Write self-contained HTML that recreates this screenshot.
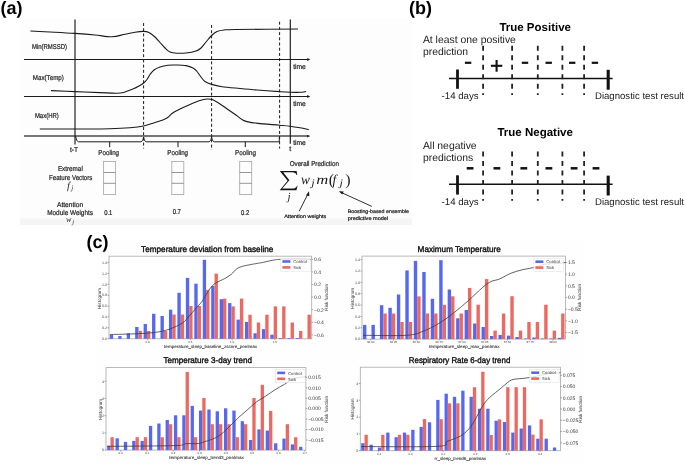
<!DOCTYPE html>
<html><head><meta charset="utf-8"><style>
html,body{margin:0;padding:0;background:#fff;}
svg{display:block;filter:blur(0.3px);}
</style></head><body>
<svg width="685" height="464" viewBox="0 0 685 464" text-rendering="geometricPrecision">
<defs><linearGradient id="bandg" x1="0" y1="0" x2="0" y2="1"><stop offset="0" stop-color="#fdfdfd"/><stop offset="0.45" stop-color="#f5f5f5"/><stop offset="1" stop-color="#f4f4f4"/></linearGradient></defs>
<rect x="20.00" y="19.00" width="392.00" height="206.00" fill="#fdfdfd" />
<rect x="20.00" y="216.50" width="392.00" height="8.50" fill="url(#bandg)" />
<rect x="95.00" y="241.00" width="490.00" height="223.00" fill="#fefefe" />
<text x="0.5" y="14" font-size="18" text-anchor="start" font-weight="bold" fill="#000" font-family='"Liberation Sans", sans-serif' >(a)</text>
<text x="409" y="14" font-size="18" text-anchor="start" font-weight="bold" fill="#000" font-family='"Liberation Sans", sans-serif' >(b)</text>
<text x="86.5" y="247.7" font-size="18" text-anchor="start" font-weight="bold" fill="#000" font-family='"Liberation Sans", sans-serif' >(c)</text>
<line x1="24" y1="59.5" x2="308" y2="59.5" stroke="#1a1a1a" stroke-width="1.15" />
<path d="M310.3,59.5 L307.2,58.1 L307.2,60.9 Z" fill="#1a1a1a" stroke="none" stroke-width="0" />
<line x1="24" y1="96.5" x2="308" y2="96.5" stroke="#1a1a1a" stroke-width="1.15" />
<path d="M310.3,96.5 L307.2,95.1 L307.2,97.9 Z" fill="#1a1a1a" stroke="none" stroke-width="0" />
<line x1="24" y1="136.1" x2="308" y2="136.1" stroke="#4a4a4a" stroke-width="1.5" />
<path d="M310.3,136.1 L307.2,134.7 L307.2,137.5 Z" fill="#1a1a1a" stroke="none" stroke-width="0" />
<line x1="75" y1="19.4" x2="75" y2="144.4" stroke="#1a1a1a" stroke-width="1.15" />
<line x1="290.3" y1="19.5" x2="290.3" y2="143.7" stroke="#1a1a1a" stroke-width="1.15" />
<line x1="143.6" y1="23" x2="143.6" y2="148.5" stroke="#1a1a1a" stroke-width="1.0" stroke-dasharray="3,2.2"/>
<line x1="211.6" y1="25" x2="211.6" y2="150" stroke="#1a1a1a" stroke-width="1.0" stroke-dasharray="3,2.2"/>
<line x1="279.6" y1="21.7" x2="279.6" y2="148.5" stroke="#1a1a1a" stroke-width="1.0" stroke-dasharray="3,2.2"/>
<path d="M75.6,136.5 Q76.5,141.8 78.5,141.8 L141,141.8 Q143.2,141.5 143.6,137 Q144,141.5 146.2,141.8 L209,141.8 Q211.2,141.5 211.6,137 Q212,141.5 214.2,141.8 L279.3,141.8 L279.3,137" fill="none" stroke="#1a1a1a" stroke-width="1.0" />
<line x1="109.7" y1="141.8" x2="109.7" y2="147.2" stroke="#1a1a1a" stroke-width="1.0" />
<line x1="178" y1="141.8" x2="178" y2="147.2" stroke="#1a1a1a" stroke-width="1.0" />
<line x1="245.3" y1="141.8" x2="245.3" y2="147.2" stroke="#1a1a1a" stroke-width="1.0" />
<path d="M30.40,31.00 C34.50,31.20 47.57,31.80 55.00,32.20 C62.43,32.60 68.33,32.93 75.00,33.40 C81.67,33.87 88.83,34.43 95.00,35.00 C101.17,35.57 107.00,36.93 112.00,36.80 C117.00,36.67 121.17,34.97 125.00,34.20 C128.83,33.43 131.90,32.67 135.00,32.20 C138.10,31.73 141.27,31.35 143.60,31.40 C145.93,31.45 147.10,31.57 149.00,32.50 C150.90,33.43 153.17,35.33 155.00,37.00 C156.83,38.67 158.33,40.67 160.00,42.50 C161.67,44.33 163.33,46.42 165.00,48.00 C166.67,49.58 168.00,51.13 170.00,52.00 C172.00,52.87 174.33,53.03 177.00,53.20 C179.67,53.37 182.83,53.37 186.00,53.00 C189.17,52.63 193.50,51.83 196.00,51.00 C198.50,50.17 199.33,49.50 201.00,48.00 C202.67,46.50 204.23,44.08 206.00,42.00 C207.77,39.92 209.77,37.25 211.60,35.50 C213.43,33.75 214.93,32.42 217.00,31.50 C219.07,30.58 220.83,30.33 224.00,30.00 C227.17,29.67 223.67,29.67 236.00,29.50 C248.33,29.33 287.67,29.08 298.00,29.00" fill="none" stroke="#1a1a1a" stroke-width="1.1" />
<path d="M51.00,90.60 C55.00,90.77 66.83,91.27 75.00,91.60 C83.17,91.93 93.00,92.33 100.00,92.60 C107.00,92.87 112.83,93.30 117.00,93.20 C121.17,93.10 122.33,92.70 125.00,92.00 C127.67,91.30 130.67,90.00 133.00,89.00 C135.33,88.00 137.23,87.00 139.00,86.00 C140.77,85.00 142.27,84.08 143.60,83.00 C144.93,81.92 145.93,80.92 147.00,79.50 C148.07,78.08 148.83,76.08 150.00,74.50 C151.17,72.92 152.33,71.25 154.00,70.00 C155.67,68.75 157.67,67.80 160.00,67.00 C162.33,66.20 165.33,65.53 168.00,65.20 C170.67,64.87 173.00,64.93 176.00,65.00 C179.00,65.07 183.17,65.10 186.00,65.60 C188.83,66.10 191.17,67.02 193.00,68.00 C194.83,68.98 195.67,70.00 197.00,71.50 C198.33,73.00 199.67,75.33 201.00,77.00 C202.33,78.67 203.23,80.27 205.00,81.50 C206.77,82.73 208.77,83.53 211.60,84.40 C214.43,85.27 217.27,86.02 222.00,86.70 C226.73,87.38 234.17,87.95 240.00,88.50 C245.83,89.05 250.40,89.48 257.00,90.00 C263.60,90.52 274.10,91.23 279.60,91.60 C285.10,91.97 286.60,92.08 290.00,92.20 C293.40,92.32 297.30,92.42 300.00,92.30 C302.70,92.18 305.17,91.63 306.20,91.50" fill="none" stroke="#1a1a1a" stroke-width="1.1" />
<path d="M39.80,129.00 C46.50,129.00 68.30,129.03 80.00,129.00 C91.70,128.97 101.67,129.00 110.00,128.80 C118.33,128.60 124.40,128.27 130.00,127.80 C135.60,127.33 139.43,126.88 143.60,126.00 C147.77,125.12 151.60,123.58 155.00,122.50 C158.40,121.42 161.83,120.37 164.00,119.50 C166.17,118.63 166.67,118.30 168.00,117.30 C169.33,116.30 170.33,114.72 172.00,113.50 C173.67,112.28 175.00,111.50 178.00,110.00 C181.00,108.50 186.33,106.08 190.00,104.50 C193.67,102.92 197.17,101.42 200.00,100.50 C202.83,99.58 205.00,99.15 207.00,99.00 C209.00,98.85 209.83,98.77 212.00,99.60 C214.17,100.43 217.33,102.35 220.00,104.00 C222.67,105.65 225.33,107.67 228.00,109.50 C230.67,111.33 233.67,113.33 236.00,115.00 C238.33,116.67 240.17,118.40 242.00,119.50 C243.83,120.60 244.33,120.95 247.00,121.60 C249.67,122.25 252.57,122.80 258.00,123.40 C263.43,124.00 274.27,124.73 279.60,125.20 C284.93,125.67 286.60,125.77 290.00,126.20 C293.40,126.63 296.87,127.23 300.00,127.80 C303.13,128.37 307.33,129.30 308.80,129.60" fill="none" stroke="#1a1a1a" stroke-width="1.1" />
<text x="32" y="48.9" font-size="7.0" font-weight="normal" fill="#2a2a2a" font-family='"Liberation Sans", sans-serif' textLength="35.00" lengthAdjust="spacingAndGlyphs" stroke="#2a2a2a" stroke-width="0.24">Min(RMSSD)</text>
<text x="32.8" y="79.5" font-size="7.0" font-weight="normal" fill="#2a2a2a" font-family='"Liberation Sans", sans-serif' textLength="31.10" lengthAdjust="spacingAndGlyphs" stroke="#2a2a2a" stroke-width="0.24">Max(Temp)</text>
<text x="34.9" y="118.4" font-size="7.0" font-weight="normal" fill="#2a2a2a" font-family='"Liberation Sans", sans-serif' textLength="23.90" lengthAdjust="spacingAndGlyphs" stroke="#2a2a2a" stroke-width="0.24">Max(HR)</text>
<text x="293.2" y="68.6" font-size="7.0" font-weight="normal" fill="#2a2a2a" font-family='"Liberation Sans", sans-serif' textLength="12.60" lengthAdjust="spacingAndGlyphs" stroke="#2a2a2a" stroke-width="0.24">time</text>
<text x="293.2" y="105.6" font-size="7.0" font-weight="normal" fill="#2a2a2a" font-family='"Liberation Sans", sans-serif' textLength="12.60" lengthAdjust="spacingAndGlyphs" stroke="#2a2a2a" stroke-width="0.24">time</text>
<text x="293.2" y="144.8" font-size="7.0" font-weight="normal" fill="#2a2a2a" font-family='"Liberation Sans", sans-serif' textLength="12.60" lengthAdjust="spacingAndGlyphs" stroke="#2a2a2a" stroke-width="0.24">time</text>
<text x="70" y="151.7" font-size="7.0" font-weight="normal" fill="#2a2a2a" font-family='"Liberation Sans", sans-serif' textLength="8.00" lengthAdjust="spacingAndGlyphs" stroke="#2a2a2a" stroke-width="0.24">t-T</text>
<text x="289.2" y="150.6" font-size="7.0" font-weight="normal" fill="#2a2a2a" font-family='"Liberation Sans", sans-serif' textLength="2.00" lengthAdjust="spacingAndGlyphs" stroke="#2a2a2a" stroke-width="0.24">t</text>
<text x="98.3" y="154.6" font-size="7.0" font-weight="normal" fill="#2a2a2a" font-family='"Liberation Sans", sans-serif' textLength="20.80" lengthAdjust="spacingAndGlyphs" stroke="#2a2a2a" stroke-width="0.24">Pooling</text>
<text x="167.29999999999998" y="154.6" font-size="7.0" font-weight="normal" fill="#2a2a2a" font-family='"Liberation Sans", sans-serif' textLength="20.80" lengthAdjust="spacingAndGlyphs" stroke="#2a2a2a" stroke-width="0.24">Pooling</text>
<text x="235.1" y="154.6" font-size="7.0" font-weight="normal" fill="#2a2a2a" font-family='"Liberation Sans", sans-serif' textLength="20.80" lengthAdjust="spacingAndGlyphs" stroke="#2a2a2a" stroke-width="0.24">Pooling</text>
<text x="57.9" y="171" font-size="7.0" font-weight="normal" fill="#2a2a2a" font-family='"Liberation Sans", sans-serif' textLength="24.90" lengthAdjust="spacingAndGlyphs" stroke="#2a2a2a" stroke-width="0.24">Extremal</text>
<text x="49" y="179.5" font-size="7.0" font-weight="normal" fill="#2a2a2a" font-family='"Liberation Sans", sans-serif' textLength="43.40" lengthAdjust="spacingAndGlyphs" stroke="#2a2a2a" stroke-width="0.24">Feature Vectors</text>
<text x="67.0" y="188.6" font-size="10.5" text-anchor="start" font-weight="normal" fill="#2a2a2a" font-family='"Liberation Serif", serif' font-style="italic" >f</text>
<text x="71.2" y="190.2" font-size="7" text-anchor="start" font-weight="normal" fill="#2a2a2a" font-family='"Liberation Serif", serif' font-style="italic" >j</text>
<text x="57" y="206.6" font-size="7.0" font-weight="normal" fill="#2a2a2a" font-family='"Liberation Sans", sans-serif' textLength="26.10" lengthAdjust="spacingAndGlyphs" stroke="#2a2a2a" stroke-width="0.24">Attention</text>
<text x="47.2" y="214.5" font-size="7.0" font-weight="normal" fill="#2a2a2a" font-family='"Liberation Sans", sans-serif' textLength="45.80" lengthAdjust="spacingAndGlyphs" stroke="#2a2a2a" stroke-width="0.24">Module Weights</text>
<text x="66.0" y="221.6" font-size="8" text-anchor="start" font-weight="normal" fill="#2a2a2a" font-family='"Liberation Serif", serif' font-style="italic" >w</text>
<text x="72.2" y="223.8" font-size="6.5" text-anchor="start" font-weight="normal" fill="#2a2a2a" font-family='"Liberation Serif", serif' font-style="italic" >j</text>
<text x="104.2" y="214.5" font-size="7.0" font-weight="normal" fill="#2a2a2a" font-family='"Liberation Sans", sans-serif' textLength="8.20" lengthAdjust="spacingAndGlyphs" stroke="#2a2a2a" stroke-width="0.24">0.1</text>
<text x="172.70000000000002" y="214.3" font-size="7.0" font-weight="normal" fill="#2a2a2a" font-family='"Liberation Sans", sans-serif' textLength="8.20" lengthAdjust="spacingAndGlyphs" stroke="#2a2a2a" stroke-width="0.24">0.7</text>
<text x="241.1" y="215" font-size="7.0" font-weight="normal" fill="#2a2a2a" font-family='"Liberation Sans", sans-serif' textLength="8.20" lengthAdjust="spacingAndGlyphs" stroke="#2a2a2a" stroke-width="0.24">0.2</text>
<rect x="103.6" y="161.4" width="12" height="33.2" fill="none" stroke="#a8a8a8" stroke-width="0.85"/>
<line x1="103.6" y1="172.5" x2="115.6" y2="172.5" stroke="#8a8a8a" stroke-width="0.9" />
<line x1="103.6" y1="183.3" x2="115.6" y2="183.3" stroke="#8a8a8a" stroke-width="0.9" />
<rect x="171.8" y="161.4" width="12" height="33.2" fill="none" stroke="#a8a8a8" stroke-width="0.85"/>
<line x1="171.8" y1="172.5" x2="183.8" y2="172.5" stroke="#8a8a8a" stroke-width="0.9" />
<line x1="171.8" y1="183.3" x2="183.8" y2="183.3" stroke="#8a8a8a" stroke-width="0.9" />
<rect x="239.7" y="161.4" width="12" height="33.2" fill="none" stroke="#a8a8a8" stroke-width="0.85"/>
<line x1="239.7" y1="172.5" x2="251.7" y2="172.5" stroke="#8a8a8a" stroke-width="0.9" />
<line x1="239.7" y1="183.3" x2="251.7" y2="183.3" stroke="#8a8a8a" stroke-width="0.9" />
<text x="289.7" y="165.6" font-size="7.0" font-weight="normal" fill="#2a2a2a" font-family='"Liberation Sans", sans-serif' textLength="49.20" lengthAdjust="spacingAndGlyphs" stroke="#2a2a2a" stroke-width="0.24">Overall Prediction</text>
<path d="M279.8,170.9 L296.6,170.9 L297.3,175 L296.6,175 Q295.8,172.2 292,172.2 L283.2,172.2 L289.4,180.3 L282.2,188.6 L292.4,188.6 Q296.2,188.6 297,185.8 L297.6,185.8 L296.4,190.2 L279.7,190.2 L287.6,180.8 Z" fill="#151515" stroke="none" stroke-width="0" />
<text x="287.4" y="199.6" font-size="11" text-anchor="start" font-weight="normal" fill="#1a1a1a" font-family='"Liberation Serif", serif' font-style="italic" >j</text>
<text x="301.1" y="183.7" font-size="13.5" text-anchor="start" font-weight="normal" fill="#1a1a1a" font-family='"Liberation Serif", serif' font-style="italic" textLength="8.9" lengthAdjust="spacingAndGlyphs">w</text>
<text x="311.2" y="185.8" font-size="10" text-anchor="start" font-weight="normal" fill="#1a1a1a" font-family='"Liberation Serif", serif' font-style="italic" textLength="3.4" lengthAdjust="spacingAndGlyphs">j</text>
<text x="316.3" y="183.7" font-size="13.5" text-anchor="start" font-weight="normal" fill="#1a1a1a" font-family='"Liberation Serif", serif' font-style="italic" textLength="12" lengthAdjust="spacingAndGlyphs">m</text>
<text x="328.7" y="185.2" font-size="16" text-anchor="start" font-weight="normal" fill="#1a1a1a" font-family='"Liberation Serif", serif' >(</text>
<text x="332.6" y="183.7" font-size="13.5" text-anchor="start" font-weight="normal" fill="#1a1a1a" font-family='"Liberation Serif", serif' font-style="italic" >f</text>
<text x="339.6" y="185.8" font-size="10" text-anchor="start" font-weight="normal" fill="#1a1a1a" font-family='"Liberation Serif", serif' font-style="italic" textLength="3.4" lengthAdjust="spacingAndGlyphs">j</text>
<text x="345.3" y="185.2" font-size="16" text-anchor="start" font-weight="normal" fill="#1a1a1a" font-family='"Liberation Serif", serif' >)</text>
<line x1="299.2" y1="211.3" x2="307.9" y2="194" stroke="#1a1a1a" stroke-width="0.9" />
<path d="M309,191.3 L306,195.2 L309.3,196.3 Z" fill="#1a1a1a" stroke="none" stroke-width="0" />
<line x1="371.8" y1="206.4" x2="341.5" y2="192.6" stroke="#1a1a1a" stroke-width="0.9" />
<path d="M338.7,191.3 L343.7,191.4 L342.3,194.6 Z" fill="#1a1a1a" stroke="none" stroke-width="0" />
<text x="284.2" y="217.5" font-size="5" font-weight="normal" fill="#2a2a2a" font-family='"Liberation Sans", sans-serif' textLength="42.10" lengthAdjust="spacingAndGlyphs" stroke="#2a2a2a" stroke-width="0.24">Attention weights</text>
<text x="347.7" y="212.6" font-size="5" font-weight="normal" fill="#2a2a2a" font-family='"Liberation Sans", sans-serif' textLength="61.30" lengthAdjust="spacingAndGlyphs" stroke="#2a2a2a" stroke-width="0.24">Boosting-based ensemble</text>
<text x="347.7" y="219.8" font-size="5" font-weight="normal" fill="#2a2a2a" font-family='"Liberation Sans", sans-serif' textLength="40.50" lengthAdjust="spacingAndGlyphs" stroke="#2a2a2a" stroke-width="0.24">predictive model</text>
<text x="535.2" y="30.5" font-size="11.5" text-anchor="middle" font-weight="bold" fill="#000" font-family='"Liberation Sans", sans-serif' >True Positive</text>
<text x="422.9" y="43.2" font-size="10.4" text-anchor="start" font-weight="normal" fill="#222" font-family='"Liberation Sans", sans-serif' >At least one positive</text>
<text x="422.9" y="55.4" font-size="10.4" text-anchor="start" font-weight="normal" fill="#222" font-family='"Liberation Sans", sans-serif' >prediction</text>
<line x1="449" y1="78.5" x2="612.6" y2="78.5" stroke="#111" stroke-width="1.5" />
<line x1="457.5" y1="69.5" x2="457.5" y2="88.8" stroke="#111" stroke-width="2.8" />
<line x1="608.2" y1="69.8" x2="608.2" y2="89.7" stroke="#111" stroke-width="3.1" />
<line x1="483.1" y1="45.8" x2="483.1" y2="95" stroke="#222" stroke-width="1.8" stroke-dasharray="5,4.5"/>
<line x1="512.1" y1="45.8" x2="512.1" y2="95" stroke="#222" stroke-width="1.8" stroke-dasharray="5,4.5"/>
<line x1="537.8" y1="45.8" x2="537.8" y2="95" stroke="#222" stroke-width="1.8" stroke-dasharray="5,4.5"/>
<line x1="562.4" y1="45.8" x2="562.4" y2="95" stroke="#222" stroke-width="1.8" stroke-dasharray="5,4.5"/>
<line x1="584.1" y1="45.8" x2="584.1" y2="95" stroke="#222" stroke-width="1.8" stroke-dasharray="5,4.5"/>
<line x1="464.90000000000003" y1="62.8" x2="471.3" y2="62.8" stroke="#111" stroke-width="2.2" />
<line x1="490.9" y1="65.8" x2="502.3" y2="65.8" stroke="#111" stroke-width="2.1" />
<line x1="496.6" y1="60" x2="496.6" y2="71.7" stroke="#111" stroke-width="2.1" />
<line x1="521.8" y1="62.8" x2="528.2" y2="62.8" stroke="#111" stroke-width="2.2" />
<line x1="545.5" y1="62.8" x2="551.9000000000001" y2="62.8" stroke="#111" stroke-width="2.2" />
<line x1="569.0" y1="62.8" x2="575.4000000000001" y2="62.8" stroke="#111" stroke-width="2.2" />
<line x1="591.6999999999999" y1="62.8" x2="598.1" y2="62.8" stroke="#111" stroke-width="2.2" />
<text x="460.1" y="99.3" font-size="9.7" text-anchor="middle" font-weight="normal" fill="#222" font-family='"Liberation Sans", sans-serif' >-14 days</text>
<text x="639.5" y="99.2" font-size="9.6" text-anchor="middle" font-weight="normal" fill="#222" font-family='"Liberation Sans", sans-serif' >Diagnostic test result</text>
<text x="535.2" y="136.3" font-size="11.5" text-anchor="middle" font-weight="bold" fill="#000" font-family='"Liberation Sans", sans-serif' >True Negative</text>
<text x="422.9" y="149.0" font-size="10.4" text-anchor="start" font-weight="normal" fill="#222" font-family='"Liberation Sans", sans-serif' >All negative</text>
<text x="422.9" y="161.2" font-size="10.4" text-anchor="start" font-weight="normal" fill="#222" font-family='"Liberation Sans", sans-serif' >predictions</text>
<line x1="449" y1="184.3" x2="612.6" y2="184.3" stroke="#111" stroke-width="1.5" />
<line x1="457.5" y1="175.3" x2="457.5" y2="194.6" stroke="#111" stroke-width="2.8" />
<line x1="608.2" y1="175.6" x2="608.2" y2="195.5" stroke="#111" stroke-width="3.1" />
<line x1="483.1" y1="151.6" x2="483.1" y2="200.8" stroke="#222" stroke-width="1.8" stroke-dasharray="5,4.5"/>
<line x1="512.1" y1="151.6" x2="512.1" y2="200.8" stroke="#222" stroke-width="1.8" stroke-dasharray="5,4.5"/>
<line x1="537.8" y1="151.6" x2="537.8" y2="200.8" stroke="#222" stroke-width="1.8" stroke-dasharray="5,4.5"/>
<line x1="562.4" y1="151.6" x2="562.4" y2="200.8" stroke="#222" stroke-width="1.8" stroke-dasharray="5,4.5"/>
<line x1="584.1" y1="151.6" x2="584.1" y2="200.8" stroke="#222" stroke-width="1.8" stroke-dasharray="5,4.5"/>
<line x1="466.70000000000005" y1="168.3" x2="473.5" y2="168.3" stroke="#111" stroke-width="2.5" />
<line x1="493.5" y1="168.3" x2="500.29999999999995" y2="168.3" stroke="#111" stroke-width="2.5" />
<line x1="520.4" y1="168.3" x2="527.1999999999999" y2="168.3" stroke="#111" stroke-width="2.5" />
<line x1="545.5" y1="168.3" x2="552.3" y2="168.3" stroke="#111" stroke-width="2.5" />
<line x1="570.7" y1="168.3" x2="577.5" y2="168.3" stroke="#111" stroke-width="2.5" />
<line x1="592.6" y1="168.3" x2="599.4" y2="168.3" stroke="#111" stroke-width="2.5" />
<text x="460.1" y="205.1" font-size="9.7" text-anchor="middle" font-weight="normal" fill="#222" font-family='"Liberation Sans", sans-serif' >-14 days</text>
<text x="639.5" y="205.0" font-size="9.6" text-anchor="middle" font-weight="normal" fill="#222" font-family='"Liberation Sans", sans-serif' >Diagnostic test result</text>
<rect x="109" y="256.2" width="202.7" height="82.60000000000002" fill="#fff" stroke="#a8a8a8" stroke-width="0.8"/>
<rect x="109.80" y="334.90" width="3.35" height="3.90" fill="#5768f0" />
<rect x="118.25" y="336.00" width="3.35" height="2.80" fill="#5768f0" />
<rect x="126.70" y="333.30" width="3.35" height="5.50" fill="#5768f0" />
<rect x="135.15" y="327.00" width="3.35" height="11.80" fill="#5768f0" />
<rect x="143.60" y="324.00" width="3.35" height="14.80" fill="#5768f0" />
<rect x="152.05" y="313.80" width="3.35" height="25.00" fill="#5768f0" />
<rect x="160.50" y="316.00" width="3.35" height="22.80" fill="#5768f0" />
<rect x="168.95" y="309.70" width="3.35" height="29.10" fill="#5768f0" />
<rect x="177.40" y="292.80" width="3.35" height="46.00" fill="#5768f0" />
<rect x="185.85" y="277.90" width="3.35" height="60.90" fill="#5768f0" />
<rect x="194.30" y="283.70" width="3.35" height="55.10" fill="#5768f0" />
<rect x="202.75" y="259.80" width="3.35" height="79.00" fill="#5768f0" />
<rect x="211.20" y="286.00" width="3.35" height="52.80" fill="#5768f0" />
<rect x="219.65" y="299.20" width="3.35" height="39.60" fill="#5768f0" />
<rect x="228.10" y="303.10" width="3.35" height="35.70" fill="#5768f0" />
<rect x="236.55" y="319.60" width="3.35" height="19.20" fill="#5768f0" />
<rect x="245.00" y="321.90" width="3.35" height="16.90" fill="#5768f0" />
<rect x="253.45" y="333.30" width="3.35" height="5.50" fill="#5768f0" />
<rect x="261.90" y="329.10" width="3.35" height="9.70" fill="#5768f0" />
<rect x="270.35" y="334.70" width="3.35" height="4.10" fill="#5768f0" />
<rect x="278.80" y="338.00" width="3.35" height="0.80" fill="#5768f0" />
<rect x="287.25" y="338.00" width="3.35" height="0.80" fill="#5768f0" />
<rect x="295.70" y="338.00" width="3.35" height="0.80" fill="#5768f0" />
<rect x="138.50" y="330.80" width="3.35" height="8.00" fill="#ec6961" />
<rect x="146.95" y="331.00" width="3.35" height="7.80" fill="#ec6961" />
<rect x="163.85" y="331.00" width="3.35" height="7.80" fill="#ec6961" />
<rect x="172.30" y="314.50" width="3.35" height="24.30" fill="#ec6961" />
<rect x="180.75" y="314.50" width="3.35" height="24.30" fill="#ec6961" />
<rect x="189.20" y="306.00" width="3.35" height="32.80" fill="#ec6961" />
<rect x="197.65" y="306.00" width="3.35" height="32.80" fill="#ec6961" />
<rect x="206.10" y="289.90" width="3.35" height="48.90" fill="#ec6961" />
<rect x="214.55" y="273.60" width="3.35" height="65.20" fill="#ec6961" />
<rect x="223.00" y="298.60" width="3.35" height="40.20" fill="#ec6961" />
<rect x="231.45" y="306.40" width="3.35" height="32.40" fill="#ec6961" />
<rect x="239.90" y="298.60" width="3.35" height="40.20" fill="#ec6961" />
<rect x="248.35" y="314.70" width="3.35" height="24.10" fill="#ec6961" />
<rect x="256.80" y="322.50" width="3.35" height="16.30" fill="#ec6961" />
<rect x="265.25" y="314.70" width="3.35" height="24.10" fill="#ec6961" />
<rect x="273.70" y="306.40" width="3.35" height="32.40" fill="#ec6961" />
<rect x="282.15" y="306.40" width="3.35" height="32.40" fill="#ec6961" />
<rect x="290.60" y="322.50" width="3.35" height="16.30" fill="#ec6961" />
<rect x="299.05" y="331.00" width="3.35" height="7.80" fill="#ec6961" />
<rect x="307.50" y="314.70" width="3.35" height="24.10" fill="#ec6961" />
<path d="M109.80,334.50 C113.17,334.42 122.72,334.32 130.00,334.00 C137.28,333.68 147.00,333.38 153.50,332.60 C160.00,331.82 164.15,330.92 169.00,329.30 C173.85,327.68 179.37,324.95 182.60,322.90 C185.83,320.85 186.17,319.43 188.40,317.00 C190.63,314.57 193.73,310.88 196.00,308.30 C198.27,305.72 200.03,304.25 202.00,301.50 C203.97,298.75 206.25,294.22 207.80,291.80 C209.35,289.38 209.98,288.47 211.30,287.00 C212.62,285.53 213.52,284.38 215.70,283.00 C217.88,281.62 221.82,280.13 224.40,278.70 C226.98,277.27 229.10,276.08 231.20,274.40 C233.30,272.72 234.90,270.00 237.00,268.60 C239.10,267.20 240.73,266.82 243.80,266.00 C246.87,265.18 252.17,264.30 255.40,263.70 C258.63,263.10 260.28,262.98 263.20,262.40 C266.12,261.82 269.67,260.72 272.90,260.20 C276.13,259.68 276.25,259.45 282.60,259.30 C288.95,259.15 306.27,259.30 311.00,259.30" fill="none" stroke="#3a3a3a" stroke-width="0.8" />
<rect x="280.8" y="258.2" width="29.5" height="13" fill="#fff" fill-opacity="0.8" stroke="#ddd" stroke-width="0.5"/>
<rect x="282.40" y="260.20" width="8.00" height="2.60" fill="#5768f0" />
<rect x="282.40" y="266.10" width="8.00" height="2.60" fill="#ec6961" />
<text x="293.3" y="263.2" font-size="4.2" text-anchor="start" font-weight="normal" fill="#333" font-family='"Liberation Sans", sans-serif' >Control</text>
<text x="293.3" y="269.2" font-size="4.2" text-anchor="start" font-weight="normal" fill="#333" font-family='"Liberation Sans", sans-serif' >Sick</text>
<line x1="107.5" y1="338.6" x2="109" y2="338.6" stroke="#555" stroke-width="0.5" />
<text x="106.9" y="339.90000000000003" font-size="3.6" text-anchor="end" font-weight="normal" fill="#444" font-family='"Liberation Sans", sans-serif' >0.0</text>
<line x1="107.5" y1="327.74" x2="109" y2="327.74" stroke="#555" stroke-width="0.5" />
<text x="106.9" y="329.04" font-size="3.6" text-anchor="end" font-weight="normal" fill="#444" font-family='"Liberation Sans", sans-serif' >0.2</text>
<line x1="107.5" y1="316.88" x2="109" y2="316.88" stroke="#555" stroke-width="0.5" />
<text x="106.9" y="318.18" font-size="3.6" text-anchor="end" font-weight="normal" fill="#444" font-family='"Liberation Sans", sans-serif' >0.4</text>
<line x1="107.5" y1="306.02000000000004" x2="109" y2="306.02000000000004" stroke="#555" stroke-width="0.5" />
<text x="106.9" y="307.32000000000005" font-size="3.6" text-anchor="end" font-weight="normal" fill="#444" font-family='"Liberation Sans", sans-serif' >0.6</text>
<line x1="107.5" y1="295.16" x2="109" y2="295.16" stroke="#555" stroke-width="0.5" />
<text x="106.9" y="296.46000000000004" font-size="3.6" text-anchor="end" font-weight="normal" fill="#444" font-family='"Liberation Sans", sans-serif' >0.8</text>
<line x1="107.5" y1="284.3" x2="109" y2="284.3" stroke="#555" stroke-width="0.5" />
<text x="106.9" y="285.6" font-size="3.6" text-anchor="end" font-weight="normal" fill="#444" font-family='"Liberation Sans", sans-serif' >1.0</text>
<line x1="107.5" y1="273.44000000000005" x2="109" y2="273.44000000000005" stroke="#555" stroke-width="0.5" />
<text x="106.9" y="274.74000000000007" font-size="3.6" text-anchor="end" font-weight="normal" fill="#444" font-family='"Liberation Sans", sans-serif' >1.2</text>
<line x1="107.5" y1="262.58000000000004" x2="109" y2="262.58000000000004" stroke="#555" stroke-width="0.5" />
<text x="106.9" y="263.88000000000005" font-size="3.6" text-anchor="end" font-weight="normal" fill="#444" font-family='"Liberation Sans", sans-serif' >1.4</text>
<line x1="311.7" y1="259.3" x2="313.2" y2="259.3" stroke="#555" stroke-width="0.5" />
<text x="314.0" y="261.1" font-size="5" text-anchor="start" font-weight="normal" fill="#333" font-family='"Liberation Sans", sans-serif' >0.6</text>
<line x1="311.7" y1="271.90000000000003" x2="313.2" y2="271.90000000000003" stroke="#555" stroke-width="0.5" />
<text x="314.0" y="273.70000000000005" font-size="5" text-anchor="start" font-weight="normal" fill="#333" font-family='"Liberation Sans", sans-serif' >0.4</text>
<line x1="311.7" y1="284.5" x2="313.2" y2="284.5" stroke="#555" stroke-width="0.5" />
<text x="314.0" y="286.3" font-size="5" text-anchor="start" font-weight="normal" fill="#333" font-family='"Liberation Sans", sans-serif' >0.2</text>
<line x1="311.7" y1="297.1" x2="313.2" y2="297.1" stroke="#555" stroke-width="0.5" />
<text x="314.0" y="298.90000000000003" font-size="5" text-anchor="start" font-weight="normal" fill="#333" font-family='"Liberation Sans", sans-serif' >0.0</text>
<line x1="311.7" y1="309.7" x2="313.2" y2="309.7" stroke="#555" stroke-width="0.5" />
<text x="314.0" y="311.5" font-size="5" text-anchor="start" font-weight="normal" fill="#333" font-family='"Liberation Sans", sans-serif' >−0.2</text>
<line x1="311.7" y1="322.3" x2="313.2" y2="322.3" stroke="#555" stroke-width="0.5" />
<text x="314.0" y="324.1" font-size="5" text-anchor="start" font-weight="normal" fill="#333" font-family='"Liberation Sans", sans-serif' >−0.4</text>
<line x1="311.7" y1="334.9" x2="313.2" y2="334.9" stroke="#555" stroke-width="0.5" />
<text x="314.0" y="336.7" font-size="5" text-anchor="start" font-weight="normal" fill="#333" font-family='"Liberation Sans", sans-serif' >−0.6</text>
<line x1="147.7" y1="338.8" x2="147.7" y2="340.3" stroke="#555" stroke-width="0.5" />
<text x="147.7" y="343.1" font-size="3" text-anchor="middle" font-weight="normal" fill="#444" font-family='"Liberation Sans", sans-serif' >0.0</text>
<line x1="190.3" y1="338.8" x2="190.3" y2="340.3" stroke="#555" stroke-width="0.5" />
<text x="190.3" y="343.1" font-size="3" text-anchor="middle" font-weight="normal" fill="#444" font-family='"Liberation Sans", sans-serif' >0.5</text>
<line x1="232.1" y1="338.8" x2="232.1" y2="340.3" stroke="#555" stroke-width="0.5" />
<text x="232.1" y="343.1" font-size="3" text-anchor="middle" font-weight="normal" fill="#444" font-family='"Liberation Sans", sans-serif' >1.0</text>
<line x1="274.8" y1="338.8" x2="274.8" y2="340.3" stroke="#555" stroke-width="0.5" />
<text x="274.8" y="343.1" font-size="3" text-anchor="middle" font-weight="normal" fill="#444" font-family='"Liberation Sans", sans-serif' >1.5</text>
<text x="164.1" y="347.8" font-size="4.4" font-weight="normal" fill="#333" font-family='"Liberation Sans", sans-serif' textLength="92.90" lengthAdjust="spacingAndGlyphs" stroke="#333" stroke-width="0.08">temperature_sleep_baseline_zscore_poolmax</text>
<text x="141.1" y="252" font-size="8.4" font-weight="normal" fill="#111" font-family='"Liberation Sans", sans-serif' textLength="132.30" lengthAdjust="spacingAndGlyphs" stroke="#111" stroke-width="0.38">Temperature deviation from baseline</text>
<text x="0" y="0" font-size="4.6" text-anchor="middle" fill="#333" font-family='"Liberation Sans", sans-serif' transform="translate(100.89999999999999,298.5) rotate(-90)">Histogram</text>
<text x="0" y="0" font-size="4.66" text-anchor="middle" fill="#333" font-family='"Liberation Sans", sans-serif' transform="translate(328.20000000000005,297.3) rotate(-90)">Risk function</text>
<rect x="362" y="256.1" width="203.60000000000002" height="83.0" fill="#fff" stroke="#a8a8a8" stroke-width="0.8"/>
<rect x="363.00" y="324.90" width="3.40" height="14.20" fill="#5768f0" />
<rect x="371.47" y="324.90" width="3.40" height="14.20" fill="#5768f0" />
<rect x="379.93" y="305.20" width="3.40" height="33.90" fill="#5768f0" />
<rect x="388.40" y="307.80" width="3.40" height="31.30" fill="#5768f0" />
<rect x="396.87" y="294.50" width="3.40" height="44.60" fill="#5768f0" />
<rect x="405.33" y="270.40" width="3.40" height="68.70" fill="#5768f0" />
<rect x="413.80" y="260.90" width="3.40" height="78.20" fill="#5768f0" />
<rect x="422.27" y="272.00" width="3.40" height="67.10" fill="#5768f0" />
<rect x="430.74" y="298.80" width="3.40" height="40.30" fill="#5768f0" />
<rect x="439.20" y="260.20" width="3.40" height="78.90" fill="#5768f0" />
<rect x="447.67" y="289.50" width="3.40" height="49.60" fill="#5768f0" />
<rect x="456.14" y="318.30" width="3.40" height="20.80" fill="#5768f0" />
<rect x="464.60" y="310.00" width="3.40" height="29.10" fill="#5768f0" />
<rect x="473.07" y="323.50" width="3.40" height="15.60" fill="#5768f0" />
<rect x="481.54" y="327.00" width="3.40" height="12.10" fill="#5768f0" />
<rect x="490.00" y="336.00" width="3.40" height="3.10" fill="#5768f0" />
<rect x="498.47" y="334.90" width="3.40" height="4.20" fill="#5768f0" />
<rect x="506.94" y="335.60" width="3.40" height="3.50" fill="#5768f0" />
<rect x="515.41" y="337.00" width="3.40" height="2.10" fill="#5768f0" />
<rect x="523.87" y="338.50" width="3.40" height="0.60" fill="#5768f0" />
<rect x="532.34" y="337.50" width="3.40" height="1.60" fill="#5768f0" />
<rect x="540.81" y="338.50" width="3.40" height="0.60" fill="#5768f0" />
<rect x="549.27" y="338.50" width="3.40" height="0.60" fill="#5768f0" />
<rect x="557.74" y="337.80" width="3.40" height="1.30" fill="#5768f0" />
<rect x="383.33" y="313.50" width="3.40" height="25.60" fill="#ec6961" />
<rect x="391.80" y="313.50" width="3.40" height="25.60" fill="#ec6961" />
<rect x="400.27" y="322.00" width="3.40" height="17.10" fill="#ec6961" />
<rect x="408.73" y="322.00" width="3.40" height="17.10" fill="#ec6961" />
<rect x="417.20" y="296.40" width="3.40" height="42.70" fill="#ec6961" />
<rect x="425.67" y="313.50" width="3.40" height="25.60" fill="#ec6961" />
<rect x="434.14" y="313.50" width="3.40" height="25.60" fill="#ec6961" />
<rect x="442.60" y="304.80" width="3.40" height="34.30" fill="#ec6961" />
<rect x="451.07" y="296.30" width="3.40" height="42.80" fill="#ec6961" />
<rect x="459.54" y="313.50" width="3.40" height="25.60" fill="#ec6961" />
<rect x="468.00" y="287.90" width="3.40" height="51.20" fill="#ec6961" />
<rect x="476.47" y="304.70" width="3.40" height="34.40" fill="#ec6961" />
<rect x="484.94" y="279.10" width="3.40" height="60.00" fill="#ec6961" />
<rect x="493.40" y="330.60" width="3.40" height="8.50" fill="#ec6961" />
<rect x="501.87" y="313.50" width="3.40" height="25.60" fill="#ec6961" />
<rect x="510.34" y="296.20" width="3.40" height="42.90" fill="#ec6961" />
<rect x="518.81" y="330.60" width="3.40" height="8.50" fill="#ec6961" />
<rect x="527.27" y="322.00" width="3.40" height="17.10" fill="#ec6961" />
<rect x="535.74" y="322.00" width="3.40" height="17.10" fill="#ec6961" />
<rect x="544.21" y="304.70" width="3.40" height="34.40" fill="#ec6961" />
<rect x="552.67" y="330.60" width="3.40" height="8.50" fill="#ec6961" />
<rect x="561.14" y="313.50" width="3.40" height="25.60" fill="#ec6961" />
<path d="M363.00,335.30 C370.23,335.30 396.40,335.97 406.40,335.30 C416.40,334.63 417.47,333.35 423.00,331.30 C428.53,329.25 434.40,326.13 439.60,323.00 C444.80,319.87 449.38,316.25 454.20,312.50 C459.02,308.75 463.75,304.68 468.50,300.50 C473.25,296.32 478.95,290.57 482.70,287.40 C486.45,284.23 488.23,282.88 491.00,281.50 C493.77,280.12 495.95,280.48 499.30,279.10 C502.65,277.72 507.15,274.78 511.10,273.20 C515.05,271.62 519.03,270.58 523.00,269.60 C526.97,268.62 531.35,268.20 534.90,267.30 C538.45,266.40 540.95,264.80 544.30,264.20 C547.65,263.60 551.45,263.98 555.00,263.70 C558.55,263.42 563.83,262.70 565.60,262.50" fill="none" stroke="#3a3a3a" stroke-width="0.8" />
<rect x="533.8" y="258.4" width="29.5" height="13" fill="#fff" fill-opacity="0.8" stroke="#ddd" stroke-width="0.5"/>
<rect x="535.40" y="260.40" width="8.00" height="2.60" fill="#5768f0" />
<rect x="535.40" y="266.30" width="8.00" height="2.60" fill="#ec6961" />
<text x="546.3" y="263.4" font-size="4.2" text-anchor="start" font-weight="normal" fill="#333" font-family='"Liberation Sans", sans-serif' >Control</text>
<text x="546.3" y="269.4" font-size="4.2" text-anchor="start" font-weight="normal" fill="#333" font-family='"Liberation Sans", sans-serif' >Sick</text>
<line x1="360.5" y1="339.1" x2="362" y2="339.1" stroke="#555" stroke-width="0.5" />
<text x="359.9" y="340.40000000000003" font-size="3.6" text-anchor="end" font-weight="normal" fill="#444" font-family='"Liberation Sans", sans-serif' >0.0</text>
<line x1="360.5" y1="327.75" x2="362" y2="327.75" stroke="#555" stroke-width="0.5" />
<text x="359.9" y="329.05" font-size="3.6" text-anchor="end" font-weight="normal" fill="#444" font-family='"Liberation Sans", sans-serif' >0.2</text>
<line x1="360.5" y1="316.40000000000003" x2="362" y2="316.40000000000003" stroke="#555" stroke-width="0.5" />
<text x="359.9" y="317.70000000000005" font-size="3.6" text-anchor="end" font-weight="normal" fill="#444" font-family='"Liberation Sans", sans-serif' >0.4</text>
<line x1="360.5" y1="305.05" x2="362" y2="305.05" stroke="#555" stroke-width="0.5" />
<text x="359.9" y="306.35" font-size="3.6" text-anchor="end" font-weight="normal" fill="#444" font-family='"Liberation Sans", sans-serif' >0.6</text>
<line x1="360.5" y1="293.70000000000005" x2="362" y2="293.70000000000005" stroke="#555" stroke-width="0.5" />
<text x="359.9" y="295.00000000000006" font-size="3.6" text-anchor="end" font-weight="normal" fill="#444" font-family='"Liberation Sans", sans-serif' >0.8</text>
<line x1="360.5" y1="282.35" x2="362" y2="282.35" stroke="#555" stroke-width="0.5" />
<text x="359.9" y="283.65000000000003" font-size="3.6" text-anchor="end" font-weight="normal" fill="#444" font-family='"Liberation Sans", sans-serif' >1.0</text>
<line x1="360.5" y1="271.0" x2="362" y2="271.0" stroke="#555" stroke-width="0.5" />
<text x="359.9" y="272.3" font-size="3.6" text-anchor="end" font-weight="normal" fill="#444" font-family='"Liberation Sans", sans-serif' >1.2</text>
<line x1="360.5" y1="259.65000000000003" x2="362" y2="259.65000000000003" stroke="#555" stroke-width="0.5" />
<text x="359.9" y="260.95000000000005" font-size="3.6" text-anchor="end" font-weight="normal" fill="#444" font-family='"Liberation Sans", sans-serif' >1.4</text>
<line x1="565.6" y1="262.5" x2="567.1" y2="262.5" stroke="#555" stroke-width="0.5" />
<text x="567.9" y="264.3" font-size="5" text-anchor="start" font-weight="normal" fill="#333" font-family='"Liberation Sans", sans-serif' >1.5</text>
<line x1="565.6" y1="274.17" x2="567.1" y2="274.17" stroke="#555" stroke-width="0.5" />
<text x="567.9" y="275.97" font-size="5" text-anchor="start" font-weight="normal" fill="#333" font-family='"Liberation Sans", sans-serif' >1.0</text>
<line x1="565.6" y1="285.84" x2="567.1" y2="285.84" stroke="#555" stroke-width="0.5" />
<text x="567.9" y="287.64" font-size="5" text-anchor="start" font-weight="normal" fill="#333" font-family='"Liberation Sans", sans-serif' >0.5</text>
<line x1="565.6" y1="297.51" x2="567.1" y2="297.51" stroke="#555" stroke-width="0.5" />
<text x="567.9" y="299.31" font-size="5" text-anchor="start" font-weight="normal" fill="#333" font-family='"Liberation Sans", sans-serif' >0.0</text>
<line x1="565.6" y1="309.18" x2="567.1" y2="309.18" stroke="#555" stroke-width="0.5" />
<text x="567.9" y="310.98" font-size="5" text-anchor="start" font-weight="normal" fill="#333" font-family='"Liberation Sans", sans-serif' >−0.5</text>
<line x1="565.6" y1="320.85" x2="567.1" y2="320.85" stroke="#555" stroke-width="0.5" />
<text x="567.9" y="322.65000000000003" font-size="5" text-anchor="start" font-weight="normal" fill="#333" font-family='"Liberation Sans", sans-serif' >−1.0</text>
<line x1="565.6" y1="332.52" x2="567.1" y2="332.52" stroke="#555" stroke-width="0.5" />
<text x="567.9" y="334.32" font-size="5" text-anchor="start" font-weight="normal" fill="#333" font-family='"Liberation Sans", sans-serif' >−1.5</text>
<line x1="370.7" y1="339.1" x2="370.7" y2="340.6" stroke="#555" stroke-width="0.5" />
<text x="370.7" y="343.40000000000003" font-size="3" text-anchor="middle" font-weight="normal" fill="#444" font-family='"Liberation Sans", sans-serif' >36.00</text>
<line x1="393.5" y1="339.1" x2="393.5" y2="340.6" stroke="#555" stroke-width="0.5" />
<text x="393.5" y="343.40000000000003" font-size="3" text-anchor="middle" font-weight="normal" fill="#444" font-family='"Liberation Sans", sans-serif' >36.25</text>
<line x1="416.3" y1="339.1" x2="416.3" y2="340.6" stroke="#555" stroke-width="0.5" />
<text x="416.3" y="343.40000000000003" font-size="3" text-anchor="middle" font-weight="normal" fill="#444" font-family='"Liberation Sans", sans-serif' >36.50</text>
<line x1="439.1" y1="339.1" x2="439.1" y2="340.6" stroke="#555" stroke-width="0.5" />
<text x="439.1" y="343.40000000000003" font-size="3" text-anchor="middle" font-weight="normal" fill="#444" font-family='"Liberation Sans", sans-serif' >36.75</text>
<line x1="461.9" y1="339.1" x2="461.9" y2="340.6" stroke="#555" stroke-width="0.5" />
<text x="461.9" y="343.40000000000003" font-size="3" text-anchor="middle" font-weight="normal" fill="#444" font-family='"Liberation Sans", sans-serif' >37.00</text>
<line x1="484.7" y1="339.1" x2="484.7" y2="340.6" stroke="#555" stroke-width="0.5" />
<text x="484.7" y="343.40000000000003" font-size="3" text-anchor="middle" font-weight="normal" fill="#444" font-family='"Liberation Sans", sans-serif' >37.25</text>
<line x1="507.5" y1="339.1" x2="507.5" y2="340.6" stroke="#555" stroke-width="0.5" />
<text x="507.5" y="343.40000000000003" font-size="3" text-anchor="middle" font-weight="normal" fill="#444" font-family='"Liberation Sans", sans-serif' >37.50</text>
<line x1="530.3" y1="339.1" x2="530.3" y2="340.6" stroke="#555" stroke-width="0.5" />
<text x="530.3" y="343.40000000000003" font-size="3" text-anchor="middle" font-weight="normal" fill="#444" font-family='"Liberation Sans", sans-serif' >37.75</text>
<line x1="553.1" y1="339.1" x2="553.1" y2="340.6" stroke="#555" stroke-width="0.5" />
<text x="553.1" y="343.40000000000003" font-size="3" text-anchor="middle" font-weight="normal" fill="#444" font-family='"Liberation Sans", sans-serif' >38.00</text>
<text x="429" y="348.2" font-size="4.4" font-weight="normal" fill="#333" font-family='"Liberation Sans", sans-serif' textLength="70.50" lengthAdjust="spacingAndGlyphs" stroke="#333" stroke-width="0.08">temperature_sleep_max_poolmax</text>
<text x="417.6" y="252.4" font-size="8.4" font-weight="normal" fill="#111" font-family='"Liberation Sans", sans-serif' textLength="83.20" lengthAdjust="spacingAndGlyphs" stroke="#111" stroke-width="0.38">Maximum Temperature</text>
<text x="0" y="0" font-size="4.6" text-anchor="middle" fill="#333" font-family='"Liberation Sans", sans-serif' transform="translate(354.40000000000003,298.2) rotate(-90)">Histogram</text>
<text x="0" y="0" font-size="4.66" text-anchor="middle" fill="#333" font-family='"Liberation Sans", sans-serif' transform="translate(581.4,297.3) rotate(-90)">Risk function</text>
<rect x="106" y="367.6" width="199.89999999999998" height="82.5" fill="#fff" stroke="#a8a8a8" stroke-width="0.8"/>
<rect x="107.20" y="445.80" width="3.30" height="4.30" fill="#5768f0" />
<rect x="115.54" y="438.30" width="3.30" height="11.80" fill="#5768f0" />
<rect x="123.89" y="441.90" width="3.30" height="8.20" fill="#5768f0" />
<rect x="132.23" y="440.90" width="3.30" height="9.20" fill="#5768f0" />
<rect x="140.57" y="440.90" width="3.30" height="9.20" fill="#5768f0" />
<rect x="148.92" y="425.90" width="3.30" height="24.20" fill="#5768f0" />
<rect x="157.26" y="423.50" width="3.30" height="26.60" fill="#5768f0" />
<rect x="165.60" y="420.00" width="3.30" height="30.10" fill="#5768f0" />
<rect x="173.94" y="415.30" width="3.30" height="34.80" fill="#5768f0" />
<rect x="182.29" y="415.30" width="3.30" height="34.80" fill="#5768f0" />
<rect x="190.63" y="405.90" width="3.30" height="44.20" fill="#5768f0" />
<rect x="198.97" y="410.60" width="3.30" height="39.50" fill="#5768f0" />
<rect x="207.32" y="409.50" width="3.30" height="40.60" fill="#5768f0" />
<rect x="215.66" y="411.30" width="3.30" height="38.80" fill="#5768f0" />
<rect x="224.00" y="408.30" width="3.30" height="41.80" fill="#5768f0" />
<rect x="232.34" y="410.60" width="3.30" height="39.50" fill="#5768f0" />
<rect x="240.69" y="421.20" width="3.30" height="28.90" fill="#5768f0" />
<rect x="249.03" y="440.00" width="3.30" height="10.10" fill="#5768f0" />
<rect x="257.37" y="429.40" width="3.30" height="20.70" fill="#5768f0" />
<rect x="265.72" y="430.60" width="3.30" height="19.50" fill="#5768f0" />
<rect x="274.06" y="443.30" width="3.30" height="6.80" fill="#5768f0" />
<rect x="282.40" y="438.60" width="3.30" height="11.50" fill="#5768f0" />
<rect x="290.75" y="444.40" width="3.30" height="5.70" fill="#5768f0" />
<rect x="299.09" y="446.80" width="3.30" height="3.30" fill="#5768f0" />
<rect x="110.50" y="437.20" width="3.30" height="12.90" fill="#ec6961" />
<rect x="135.53" y="437.20" width="3.30" height="12.90" fill="#ec6961" />
<rect x="143.87" y="437.20" width="3.30" height="12.90" fill="#ec6961" />
<rect x="160.56" y="437.20" width="3.30" height="12.90" fill="#ec6961" />
<rect x="168.90" y="424.20" width="3.30" height="25.90" fill="#ec6961" />
<rect x="177.24" y="437.20" width="3.30" height="12.90" fill="#ec6961" />
<rect x="185.59" y="371.90" width="3.30" height="78.20" fill="#ec6961" />
<rect x="193.93" y="437.20" width="3.30" height="12.90" fill="#ec6961" />
<rect x="202.27" y="398.00" width="3.30" height="52.10" fill="#ec6961" />
<rect x="210.62" y="424.20" width="3.30" height="25.90" fill="#ec6961" />
<rect x="218.96" y="424.20" width="3.30" height="25.90" fill="#ec6961" />
<rect x="227.30" y="424.20" width="3.30" height="25.90" fill="#ec6961" />
<rect x="235.65" y="437.20" width="3.30" height="12.90" fill="#ec6961" />
<rect x="243.99" y="424.20" width="3.30" height="25.90" fill="#ec6961" />
<rect x="252.33" y="398.00" width="3.30" height="52.10" fill="#ec6961" />
<rect x="260.67" y="384.80" width="3.30" height="65.30" fill="#ec6961" />
<rect x="269.02" y="410.90" width="3.30" height="39.20" fill="#ec6961" />
<rect x="285.70" y="424.20" width="3.30" height="25.90" fill="#ec6961" />
<rect x="294.05" y="437.20" width="3.30" height="12.90" fill="#ec6961" />
<path d="M107.00,446.30 C114.17,446.25 137.92,446.15 150.00,446.00 C162.08,445.85 173.60,445.78 179.50,445.40 C185.40,445.02 182.27,444.02 185.40,443.70 C188.53,443.38 195.03,443.87 198.30,443.50 C201.57,443.13 203.05,442.08 205.00,441.50 C206.95,440.92 207.70,440.92 210.00,440.00 C212.30,439.08 215.77,438.03 218.80,436.00 C221.83,433.97 225.07,430.73 228.20,427.80 C231.33,424.87 234.47,421.33 237.60,418.40 C240.73,415.47 243.88,412.93 247.00,410.20 C250.12,407.47 253.18,404.35 256.30,402.00 C259.42,399.65 262.57,398.15 265.70,396.10 C268.83,394.05 271.97,391.67 275.10,389.70 C278.23,387.73 281.37,386.17 284.50,384.30 C287.63,382.43 290.33,379.75 293.90,378.50 C297.47,377.25 303.90,377.08 305.90,376.80" fill="none" stroke="#3a3a3a" stroke-width="0.8" />
<rect x="275.6" y="369.6" width="29.5" height="13" fill="#fff" fill-opacity="0.8" stroke="#ddd" stroke-width="0.5"/>
<rect x="277.20" y="371.60" width="8.00" height="2.60" fill="#5768f0" />
<rect x="277.20" y="377.50" width="8.00" height="2.60" fill="#ec6961" />
<text x="288.1" y="374.6" font-size="4.2" text-anchor="start" font-weight="normal" fill="#333" font-family='"Liberation Sans", sans-serif' >Control</text>
<text x="288.1" y="380.6" font-size="4.2" text-anchor="start" font-weight="normal" fill="#333" font-family='"Liberation Sans", sans-serif' >Sick</text>
<line x1="104.5" y1="450.1" x2="106" y2="450.1" stroke="#555" stroke-width="0.5" />
<text x="103.9" y="451.40000000000003" font-size="3.6" text-anchor="end" font-weight="normal" fill="#444" font-family='"Liberation Sans", sans-serif' >0</text>
<line x1="104.5" y1="432.90000000000003" x2="106" y2="432.90000000000003" stroke="#555" stroke-width="0.5" />
<text x="103.9" y="434.20000000000005" font-size="3.6" text-anchor="end" font-weight="normal" fill="#444" font-family='"Liberation Sans", sans-serif' >1</text>
<line x1="104.5" y1="415.70000000000005" x2="106" y2="415.70000000000005" stroke="#555" stroke-width="0.5" />
<text x="103.9" y="417.00000000000006" font-size="3.6" text-anchor="end" font-weight="normal" fill="#444" font-family='"Liberation Sans", sans-serif' >2</text>
<line x1="104.5" y1="398.5" x2="106" y2="398.5" stroke="#555" stroke-width="0.5" />
<text x="103.9" y="399.8" font-size="3.6" text-anchor="end" font-weight="normal" fill="#444" font-family='"Liberation Sans", sans-serif' >3</text>
<line x1="104.5" y1="381.3" x2="106" y2="381.3" stroke="#555" stroke-width="0.5" />
<text x="103.9" y="382.6" font-size="3.6" text-anchor="end" font-weight="normal" fill="#444" font-family='"Liberation Sans", sans-serif' >4</text>
<line x1="305.9" y1="377.3" x2="307.4" y2="377.3" stroke="#555" stroke-width="0.5" />
<text x="308.2" y="379.1" font-size="5" text-anchor="start" font-weight="normal" fill="#333" font-family='"Liberation Sans", sans-serif' >0.015</text>
<line x1="305.9" y1="387.75" x2="307.4" y2="387.75" stroke="#555" stroke-width="0.5" />
<text x="308.2" y="389.55" font-size="5" text-anchor="start" font-weight="normal" fill="#333" font-family='"Liberation Sans", sans-serif' >0.010</text>
<line x1="305.9" y1="398.2" x2="307.4" y2="398.2" stroke="#555" stroke-width="0.5" />
<text x="308.2" y="400.0" font-size="5" text-anchor="start" font-weight="normal" fill="#333" font-family='"Liberation Sans", sans-serif' >0.005</text>
<line x1="305.9" y1="408.65000000000003" x2="307.4" y2="408.65000000000003" stroke="#555" stroke-width="0.5" />
<text x="308.2" y="410.45000000000005" font-size="5" text-anchor="start" font-weight="normal" fill="#333" font-family='"Liberation Sans", sans-serif' >0.000</text>
<line x1="305.9" y1="419.1" x2="307.4" y2="419.1" stroke="#555" stroke-width="0.5" />
<text x="308.2" y="420.90000000000003" font-size="5" text-anchor="start" font-weight="normal" fill="#333" font-family='"Liberation Sans", sans-serif' >−0.005</text>
<line x1="305.9" y1="429.55" x2="307.4" y2="429.55" stroke="#555" stroke-width="0.5" />
<text x="308.2" y="431.35" font-size="5" text-anchor="start" font-weight="normal" fill="#333" font-family='"Liberation Sans", sans-serif' >−0.010</text>
<line x1="305.9" y1="440.0" x2="307.4" y2="440.0" stroke="#555" stroke-width="0.5" />
<text x="308.2" y="441.8" font-size="5" text-anchor="start" font-weight="normal" fill="#333" font-family='"Liberation Sans", sans-serif' >−0.015</text>
<line x1="120.7" y1="450.1" x2="120.7" y2="451.6" stroke="#555" stroke-width="0.5" />
<text x="120.7" y="454.40000000000003" font-size="3" text-anchor="middle" font-weight="normal" fill="#444" font-family='"Liberation Sans", sans-serif' >0.0</text>
<line x1="147.0" y1="450.1" x2="147.0" y2="451.6" stroke="#555" stroke-width="0.5" />
<text x="147.0" y="454.40000000000003" font-size="3" text-anchor="middle" font-weight="normal" fill="#444" font-family='"Liberation Sans", sans-serif' >0.1</text>
<line x1="173.3" y1="450.1" x2="173.3" y2="451.6" stroke="#555" stroke-width="0.5" />
<text x="173.3" y="454.40000000000003" font-size="3" text-anchor="middle" font-weight="normal" fill="#444" font-family='"Liberation Sans", sans-serif' >0.2</text>
<line x1="199.60000000000002" y1="450.1" x2="199.60000000000002" y2="451.6" stroke="#555" stroke-width="0.5" />
<text x="199.60000000000002" y="454.40000000000003" font-size="3" text-anchor="middle" font-weight="normal" fill="#444" font-family='"Liberation Sans", sans-serif' >0.3</text>
<line x1="225.9" y1="450.1" x2="225.9" y2="451.6" stroke="#555" stroke-width="0.5" />
<text x="225.9" y="454.40000000000003" font-size="3" text-anchor="middle" font-weight="normal" fill="#444" font-family='"Liberation Sans", sans-serif' >0.4</text>
<line x1="252.2" y1="450.1" x2="252.2" y2="451.6" stroke="#555" stroke-width="0.5" />
<text x="252.2" y="454.40000000000003" font-size="3" text-anchor="middle" font-weight="normal" fill="#444" font-family='"Liberation Sans", sans-serif' >0.5</text>
<line x1="278.5" y1="450.1" x2="278.5" y2="451.6" stroke="#555" stroke-width="0.5" />
<text x="278.5" y="454.40000000000003" font-size="3" text-anchor="middle" font-weight="normal" fill="#444" font-family='"Liberation Sans", sans-serif' >0.6</text>
<line x1="304.8" y1="450.1" x2="304.8" y2="451.6" stroke="#555" stroke-width="0.5" />
<text x="304.8" y="454.40000000000003" font-size="3" text-anchor="middle" font-weight="normal" fill="#444" font-family='"Liberation Sans", sans-serif' >0.7</text>
<text x="169.2" y="458.8" font-size="4.4" font-weight="normal" fill="#333" font-family='"Liberation Sans", sans-serif' textLength="74.60" lengthAdjust="spacingAndGlyphs" stroke="#333" stroke-width="0.08">temperature_sleep_trend3_poolmax</text>
<text x="163.4" y="362.6" font-size="8.4" font-weight="normal" fill="#111" font-family='"Liberation Sans", sans-serif' textLength="88.50" lengthAdjust="spacingAndGlyphs" stroke="#111" stroke-width="0.38">Temperature 3-day trend</text>
<text x="0" y="0" font-size="4.6" text-anchor="middle" fill="#333" font-family='"Liberation Sans", sans-serif' transform="translate(101.6,409.3) rotate(-90)">Histogram</text>
<text x="0" y="0" font-size="4.66" text-anchor="middle" fill="#333" font-family='"Liberation Sans", sans-serif' transform="translate(328.1,409.3) rotate(-90)">Risk function</text>
<rect x="360.3" y="367.2" width="200.2" height="83.5" fill="#fff" stroke="#a8a8a8" stroke-width="0.8"/>
<rect x="361.20" y="443.20" width="3.30" height="7.50" fill="#5768f0" />
<rect x="369.53" y="444.70" width="3.30" height="6.00" fill="#5768f0" />
<rect x="377.87" y="447.70" width="3.30" height="3.00" fill="#5768f0" />
<rect x="386.20" y="432.60" width="3.30" height="18.10" fill="#5768f0" />
<rect x="394.54" y="437.20" width="3.30" height="13.50" fill="#5768f0" />
<rect x="402.88" y="432.60" width="3.30" height="18.10" fill="#5768f0" />
<rect x="411.21" y="429.80" width="3.30" height="20.90" fill="#5768f0" />
<rect x="419.55" y="426.90" width="3.30" height="23.80" fill="#5768f0" />
<rect x="427.88" y="422.30" width="3.30" height="28.40" fill="#5768f0" />
<rect x="436.22" y="399.90" width="3.30" height="50.80" fill="#5768f0" />
<rect x="444.55" y="393.70" width="3.30" height="57.00" fill="#5768f0" />
<rect x="452.88" y="396.80" width="3.30" height="53.90" fill="#5768f0" />
<rect x="461.22" y="390.70" width="3.30" height="60.00" fill="#5768f0" />
<rect x="469.56" y="396.80" width="3.30" height="53.90" fill="#5768f0" />
<rect x="477.89" y="408.70" width="3.30" height="42.00" fill="#5768f0" />
<rect x="486.23" y="408.70" width="3.30" height="42.00" fill="#5768f0" />
<rect x="494.56" y="420.70" width="3.30" height="30.00" fill="#5768f0" />
<rect x="502.89" y="422.00" width="3.30" height="28.70" fill="#5768f0" />
<rect x="511.23" y="432.60" width="3.30" height="18.10" fill="#5768f0" />
<rect x="519.57" y="428.50" width="3.30" height="22.20" fill="#5768f0" />
<rect x="527.90" y="425.40" width="3.30" height="25.30" fill="#5768f0" />
<rect x="536.24" y="438.70" width="3.30" height="12.00" fill="#5768f0" />
<rect x="544.57" y="438.70" width="3.30" height="12.00" fill="#5768f0" />
<rect x="552.90" y="447.50" width="3.30" height="3.20" fill="#5768f0" />
<rect x="364.50" y="434.80" width="3.30" height="15.90" fill="#ec6961" />
<rect x="381.17" y="434.80" width="3.30" height="15.90" fill="#ec6961" />
<rect x="397.84" y="434.80" width="3.30" height="15.90" fill="#ec6961" />
<rect x="406.18" y="434.80" width="3.30" height="15.90" fill="#ec6961" />
<rect x="422.85" y="419.10" width="3.30" height="31.60" fill="#ec6961" />
<rect x="439.52" y="419.20" width="3.30" height="31.50" fill="#ec6961" />
<rect x="447.85" y="403.30" width="3.30" height="47.40" fill="#ec6961" />
<rect x="456.19" y="403.30" width="3.30" height="47.40" fill="#ec6961" />
<rect x="472.86" y="387.20" width="3.30" height="63.50" fill="#ec6961" />
<rect x="481.19" y="371.70" width="3.30" height="79.00" fill="#ec6961" />
<rect x="489.53" y="435.00" width="3.30" height="15.70" fill="#ec6961" />
<rect x="497.86" y="419.30" width="3.30" height="31.40" fill="#ec6961" />
<rect x="506.19" y="387.20" width="3.30" height="63.50" fill="#ec6961" />
<rect x="514.53" y="387.20" width="3.30" height="63.50" fill="#ec6961" />
<rect x="522.87" y="387.20" width="3.30" height="63.50" fill="#ec6961" />
<rect x="531.20" y="434.60" width="3.30" height="16.10" fill="#ec6961" />
<rect x="539.53" y="419.30" width="3.30" height="31.40" fill="#ec6961" />
<path d="M361.00,446.60 C373.83,446.55 423.77,447.10 438.00,446.30 C452.23,445.50 443.65,443.07 446.40,441.80 C449.15,440.53 451.78,439.90 454.50,438.70 C457.22,437.50 459.97,436.63 462.70,434.60 C465.43,432.57 468.52,429.57 470.90,426.50 C473.28,423.43 474.95,419.78 477.00,416.20 C479.05,412.62 481.15,408.07 483.20,405.00 C485.25,401.93 487.27,399.85 489.30,397.80 C491.33,395.75 493.35,394.40 495.40,392.70 C497.45,391.00 499.55,389.30 501.60,387.60 C503.65,385.90 506.00,383.80 507.70,382.50 C509.40,381.20 510.05,380.42 511.80,379.80 C513.55,379.18 515.77,379.10 518.20,378.80 C520.63,378.50 522.65,378.58 526.40,378.00 C530.15,377.42 536.62,376.08 540.70,375.30 C544.78,374.52 547.60,373.73 550.90,373.30 C554.20,372.87 558.90,372.80 560.50,372.70" fill="none" stroke="#3a3a3a" stroke-width="0.8" />
<rect x="529.6" y="369.4" width="29.5" height="13" fill="#fff" fill-opacity="0.8" stroke="#ddd" stroke-width="0.5"/>
<rect x="531.20" y="371.40" width="8.00" height="2.60" fill="#5768f0" />
<rect x="531.20" y="377.30" width="8.00" height="2.60" fill="#ec6961" />
<text x="542.1" y="374.4" font-size="4.2" text-anchor="start" font-weight="normal" fill="#333" font-family='"Liberation Sans", sans-serif' >Control</text>
<text x="542.1" y="380.4" font-size="4.2" text-anchor="start" font-weight="normal" fill="#333" font-family='"Liberation Sans", sans-serif' >Sick</text>
<line x1="358.8" y1="450.7" x2="360.3" y2="450.7" stroke="#555" stroke-width="0.5" />
<text x="358.2" y="452.0" font-size="3.6" text-anchor="end" font-weight="normal" fill="#444" font-family='"Liberation Sans", sans-serif' >0</text>
<line x1="358.8" y1="433.9" x2="360.3" y2="433.9" stroke="#555" stroke-width="0.5" />
<text x="358.2" y="435.2" font-size="3.6" text-anchor="end" font-weight="normal" fill="#444" font-family='"Liberation Sans", sans-serif' >1</text>
<line x1="358.8" y1="417.09999999999997" x2="360.3" y2="417.09999999999997" stroke="#555" stroke-width="0.5" />
<text x="358.2" y="418.4" font-size="3.6" text-anchor="end" font-weight="normal" fill="#444" font-family='"Liberation Sans", sans-serif' >2</text>
<line x1="358.8" y1="400.29999999999995" x2="360.3" y2="400.29999999999995" stroke="#555" stroke-width="0.5" />
<text x="358.2" y="401.59999999999997" font-size="3.6" text-anchor="end" font-weight="normal" fill="#444" font-family='"Liberation Sans", sans-serif' >3</text>
<line x1="358.8" y1="383.5" x2="360.3" y2="383.5" stroke="#555" stroke-width="0.5" />
<text x="358.2" y="384.8" font-size="3.6" text-anchor="end" font-weight="normal" fill="#444" font-family='"Liberation Sans", sans-serif' >4</text>
<line x1="560.5" y1="375.3" x2="562.0" y2="375.3" stroke="#555" stroke-width="0.5" />
<text x="562.8" y="377.1" font-size="5" text-anchor="start" font-weight="normal" fill="#333" font-family='"Liberation Sans", sans-serif' >0.075</text>
<line x1="560.5" y1="386.55" x2="562.0" y2="386.55" stroke="#555" stroke-width="0.5" />
<text x="562.8" y="388.35" font-size="5" text-anchor="start" font-weight="normal" fill="#333" font-family='"Liberation Sans", sans-serif' >0.050</text>
<line x1="560.5" y1="397.8" x2="562.0" y2="397.8" stroke="#555" stroke-width="0.5" />
<text x="562.8" y="399.6" font-size="5" text-anchor="start" font-weight="normal" fill="#333" font-family='"Liberation Sans", sans-serif' >0.025</text>
<line x1="560.5" y1="409.05" x2="562.0" y2="409.05" stroke="#555" stroke-width="0.5" />
<text x="562.8" y="410.85" font-size="5" text-anchor="start" font-weight="normal" fill="#333" font-family='"Liberation Sans", sans-serif' >0.000</text>
<line x1="560.5" y1="420.3" x2="562.0" y2="420.3" stroke="#555" stroke-width="0.5" />
<text x="562.8" y="422.1" font-size="5" text-anchor="start" font-weight="normal" fill="#333" font-family='"Liberation Sans", sans-serif' >−0.025</text>
<line x1="560.5" y1="431.55" x2="562.0" y2="431.55" stroke="#555" stroke-width="0.5" />
<text x="562.8" y="433.35" font-size="5" text-anchor="start" font-weight="normal" fill="#333" font-family='"Liberation Sans", sans-serif' >−0.050</text>
<line x1="560.5" y1="442.8" x2="562.0" y2="442.8" stroke="#555" stroke-width="0.5" />
<text x="562.8" y="444.6" font-size="5" text-anchor="start" font-weight="normal" fill="#333" font-family='"Liberation Sans", sans-serif' >−0.075</text>
<line x1="378.3" y1="450.7" x2="378.3" y2="452.2" stroke="#555" stroke-width="0.5" />
<text x="378.3" y="455.0" font-size="3" text-anchor="middle" font-weight="normal" fill="#444" font-family='"Liberation Sans", sans-serif' >−0.1</text>
<line x1="410.65000000000003" y1="450.7" x2="410.65000000000003" y2="452.2" stroke="#555" stroke-width="0.5" />
<text x="410.65000000000003" y="455.0" font-size="3" text-anchor="middle" font-weight="normal" fill="#444" font-family='"Liberation Sans", sans-serif' >0.0</text>
<line x1="443.0" y1="450.7" x2="443.0" y2="452.2" stroke="#555" stroke-width="0.5" />
<text x="443.0" y="455.0" font-size="3" text-anchor="middle" font-weight="normal" fill="#444" font-family='"Liberation Sans", sans-serif' >0.1</text>
<line x1="475.35" y1="450.7" x2="475.35" y2="452.2" stroke="#555" stroke-width="0.5" />
<text x="475.35" y="455.0" font-size="3" text-anchor="middle" font-weight="normal" fill="#444" font-family='"Liberation Sans", sans-serif' >0.2</text>
<line x1="507.70000000000005" y1="450.7" x2="507.70000000000005" y2="452.2" stroke="#555" stroke-width="0.5" />
<text x="507.70000000000005" y="455.0" font-size="3" text-anchor="middle" font-weight="normal" fill="#444" font-family='"Liberation Sans", sans-serif' >0.3</text>
<line x1="540.05" y1="450.7" x2="540.05" y2="452.2" stroke="#555" stroke-width="0.5" />
<text x="540.05" y="455.0" font-size="3" text-anchor="middle" font-weight="normal" fill="#444" font-family='"Liberation Sans", sans-serif' >0.4</text>
<text x="434.4" y="459.9" font-size="4.4" font-weight="normal" fill="#333" font-family='"Liberation Sans", sans-serif' textLength="51.60" lengthAdjust="spacingAndGlyphs" stroke="#333" stroke-width="0.08">rr_sleep_trend6_poolmax</text>
<text x="408.8" y="363.1" font-size="8.4" font-weight="normal" fill="#111" font-family='"Liberation Sans", sans-serif' textLength="101.50" lengthAdjust="spacingAndGlyphs" stroke="#111" stroke-width="0.38">Respiratory Rate 6-day trend</text>
<text x="0" y="0" font-size="4.6" text-anchor="middle" fill="#333" font-family='"Liberation Sans", sans-serif' transform="translate(354.3,409) rotate(-90)">Histogram</text>
<text x="0" y="0" font-size="4.66" text-anchor="middle" fill="#333" font-family='"Liberation Sans", sans-serif' transform="translate(582.1,409.3) rotate(-90)">Risk function</text>
</svg>
</body></html>
